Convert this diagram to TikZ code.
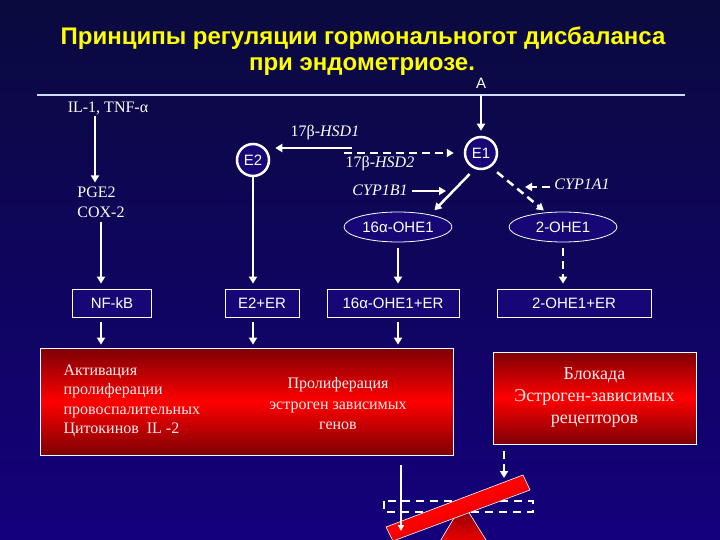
\documentclass[tikz,border=0pt]{standalone}
\usepackage{fontspec}
\setmainfont{Liberation Serif}
\setsansfont{Liberation Sans}
\usetikzlibrary{arrows.meta,shapes.geometric}
\definecolor{slidetop}{RGB}{10,10,62}
\definecolor{slidelow}{RGB}{20,0,124}
\definecolor{boxnavy}{RGB}{22,6,118}
\definecolor{titleyellow}{RGB}{255,255,0}
\definecolor{rulelight}{RGB}{205,220,255}
\definecolor{reddark}{RGB}{125,0,5}
\definecolor{redbright}{RGB}{255,0,0}
\definecolor{boxtext}{RGB}{255,236,236}

\begin{document}
\begin{tikzpicture}[x=1pt,y=-1pt,
  >={Triangle[width=8pt,length=7pt]},
  ttl/.style={text=titleyellow, font=\sffamily\bfseries\fontsize{24}{28}\selectfont, anchor=base},
  lab/.style={text=white, font=\fontsize{16}{19}\selectfont, inner sep=1pt},
  hub/.style={circle, draw=white, line width=2.5pt, fill=boxnavy, text=white,
              font=\sffamily\fontsize{15}{18}\selectfont, minimum size=32pt, inner sep=0pt},
  met/.style={ellipse, draw=white, line width=0.8pt, fill=boxnavy, text=white,
              font=\sffamily\fontsize{15}{18}\selectfont, minimum width=108pt,
              minimum height=30pt, inner sep=0pt},
  cpx/.style={rectangle, draw=white, line width=0.8pt, fill=boxnavy, text=white,
              font=\sffamily\fontsize{15}{18}\selectfont, minimum height=28pt, inner sep=0pt},
  redbox/.style={rectangle, draw=white, line width=0.8pt, top color=reddark,
                 bottom color=reddark, middle color=redbright, inner sep=0pt},
  redtxt/.style={text=boxtext, font=\fontsize{16}{19.2}\selectfont},
  arr/.style={->, draw=white, line width=2.5pt},
  darr/.style={arr, dash pattern=on 8pt off 5pt},
  thinarr/.style={->, draw=white, line width=1.4pt, >={Triangle[width=6pt,length=6pt]}}
]
\path[use as bounding box] (0,0) rectangle (720,540);
\clip (0,0) rectangle (720,540);
\fill[top color=slidetop, bottom color=slidelow] (0,0) rectangle (720,540);

% title
\node[ttl] (title1) at (363,45) {Принципы регуляции гормональногот дисбаланса};
\node[ttl] (title2) at (362,71) {при эндометриозе.};
\node[text=white, font=\sffamily\fontsize{15}{18}\selectfont, inner sep=0pt] (amark) at (481,83) {A};
\coordinate (ruleL) at (37,95);
\coordinate (ruleR) at (685,95);
\coordinate (ruleA) at (481,95);
\draw[rulelight, line width=2pt] (ruleL) -- (ruleR);

% left branch
\node[lab] (il) at (108,108) {IL-1, TNF-α};
\node[lab, align=left, font=\fontsize{16}{20}\selectfont] (pge) at (101,202) {PGE2\\COX-2};
\node[cpx, minimum width=79pt] (nfkb) at (112,303) {NF-kB};
\draw[arr, shorten >=3pt] ([xshift=-13pt]il.south) -- ([xshift=-6pt]pge.north);
\draw[arr, shorten <=3pt, shorten >=5pt] (pge.south) -- (pge.south |- nfkb.north);

% estrogens
\node[hub] (e2) at (253,160) {E2};
\node[hub] (e1) at (481,153) {E1};
\draw[arr, shorten >=5pt] (ruleA) -- (e1.north);
\node[lab] (hsdone) at (325,133) {17β-\textit{HSD1}};
\node[lab] (hsdtwo) at (380,164) {17β-\textit{HSD2}};
\coordinate (hsdonestart) at (352,148);
\coordinate (hsdtwostart) at (344,153);
\draw[arr, shorten >=5pt] (hsdonestart) -- (e2.east |- hsdonestart);
\draw[darr, shorten >=10pt] (hsdtwostart) -- (e1.west);

\node[lab] (cypb) at (380,190) {\textit{CYP1B1}};
\coordinate (cypbtip) at (446,191);
\draw[arr, shorten <=3pt] (cypb.east |- cypbtip) -- (cypbtip);
\node[lab] (cypa) at (582,184) {\textit{CYP1A1}};
\coordinate (cypatip) at (525,187);
\draw[darr, shorten <=3pt] (cypa.west |- cypatip) -- (cypatip);

% hydroxy metabolites
\node[met] (ohesixteen) at (398,227) {16α-OHE1};
\node[met] (ohetwo) at (563,227) {2-OHE1};
\draw[arr, shorten <=7pt, shorten >=6pt] (e1.-112) -- (ohesixteen.21);
\draw[darr, shorten <=8pt, shorten >=3pt] (e1.-55) -- (ohetwo.139);

% receptor complexes
\node[cpx, minimum width=74pt] (e2er) at (262,303) {E2+ER};
\node[cpx, minimum width=132pt] (ohesixteener) at (393,303) {16α-OHE1+ER};
\node[cpx, minimum width=154pt] (ohetwoer) at (574,303) {2-OHE1+ER};
\draw[arr, shorten <=0pt, shorten >=5pt] (e2.south) -- (e2.south |- e2er.north);
\draw[arr, shorten <=6pt, shorten >=5pt] (ohesixteen.south) -- (ohesixteen.south |- ohesixteener.north);
\draw[darr, shorten <=6pt, shorten >=5pt] (ohetwo.south) -- (ohetwo.south |- ohetwoer.north);

% effects
\node[redbox, minimum width=413pt, minimum height=107pt] (redbig) at (246.5,401.5) {};
\node[redbox, minimum width=203pt, minimum height=92pt] (redright) at (594.5,398)
  {\parbox{203pt}{\centering\color{boxtext}\fontsize{18}{22}\selectfont
   Блокада\\Эстроген-зависимых\\рецепторов}};
\draw[arr, shorten <=5pt, shorten >=3pt] (pge.south |- nfkb.south) -- (pge.south |- redbig.north);
\draw[arr, shorten <=5pt, shorten >=3pt] (e2.south |- e2er.south) -- (e2.south |- redbig.north);
\draw[arr, shorten <=5pt, shorten >=3pt] (ohesixteen.south |- ohesixteener.south) -- (ohesixteen.south |- redbig.north);
\node[redtxt, align=left, anchor=west] (activ) at (60,401)
  {Активация\\пролиферации\\провоспалительных\\Цитокинов~ IL -2};
\node[redtxt, align=center, font=\fontsize{16}{20.5}\selectfont] (prolif) at (338,404)
  {Пролиферация\\эстроген зависимых\\генов};

% seesaw
\coordinate (tiltL) at (401,531);
\coordinate (tiltR) at (504,478);
\draw[white, line width=1.4pt, dash pattern=on 8pt off 6pt] (384,501) rectangle (533,512);
\draw[white, line width=0.6pt, top color=reddark, bottom color=redbright]
  (463,503) -- (491,548) -- (436,548) -- cycle;
\draw[white, line width=0.6pt, top color=redbright, bottom color=reddark,
      middle color=redbright, shading angle=21]
  (523,475) -- (530,490) -- (393,541) -- (386,527) -- cycle;
\draw[thinarr, shorten <=10pt] (redbig.south -| tiltL) -- (tiltL);
\draw[darr, shorten <=7pt] (redright.south -| tiltR) -- (tiltR);
\end{tikzpicture}
\end{document}
